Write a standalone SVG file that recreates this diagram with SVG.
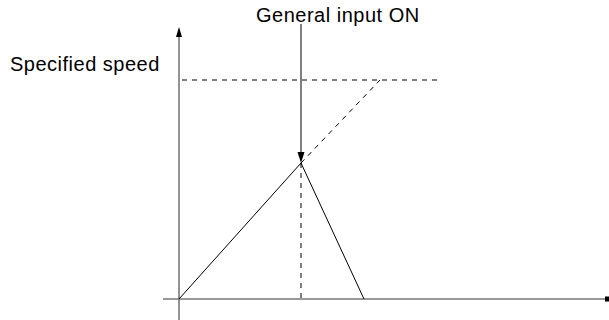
<svg xmlns="http://www.w3.org/2000/svg" width="609" height="320" viewBox="0 0 609 320">
<style>
.lbl{font-family:"Liberation Sans",Arial,sans-serif;font-size:20px;letter-spacing:0.5px;fill:#000}
.axis{stroke:#777;stroke-width:1.6;fill:none}
.ln{stroke:#000;stroke-width:1;fill:none}
.dash{stroke:#000;stroke-width:1;fill:none;stroke-dasharray:5 5}
</style>
<g id="axes">
<line class="axis" x1="179" y1="320" x2="179" y2="36"/>
<path d="M176,37 L179,27 L182,37 Z" fill="#000"/>
<line class="axis" x1="163" y1="299" x2="606" y2="299"/>
<rect x="605" y="296.5" width="4" height="5" fill="#000"/>
</g>
<g id="labels">
<text class="lbl" x="10" y="71">Specified speed</text>
<text class="lbl" x="256" y="22">General input ON</text>
</g>
<g id="connectors">
<line class="dash" x1="182" y1="80" x2="440" y2="80"/>
<line class="dash" x1="301" y1="163" x2="380" y2="80"/>
<line class="dash" x1="301" y1="163" x2="301" y2="299"/>
<polyline class="ln" points="179,299 301,163 364,299"/>
<line class="ln" x1="301" y1="24" x2="301" y2="153"/>
<path d="M297.5,152 L301,163 L304.5,152 Z" fill="#000"/>
</g>
</svg>
